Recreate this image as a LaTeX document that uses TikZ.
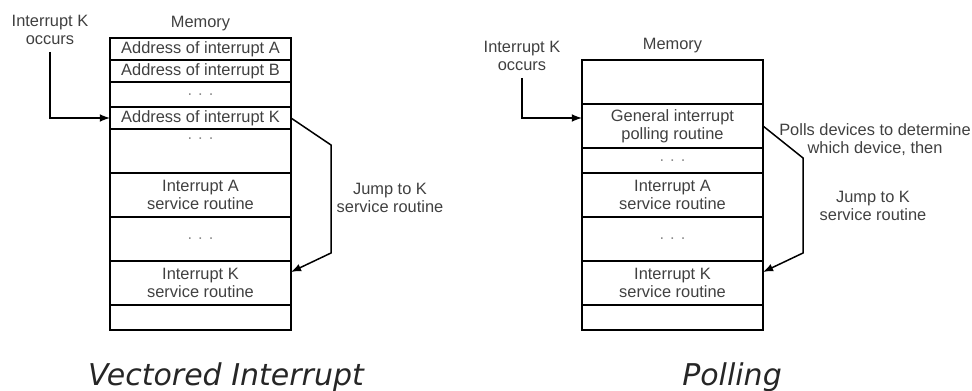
\documentclass[tikz,border=0pt]{standalone}
\usepackage{fontspec}
\setmainfont{Liberation Sans}
\newfontfamily\capfont{DejaVu Sans}
\usetikzlibrary{positioning,calc}
\newcommand{\memdots}{{\color{black!45}. . .}}

\begin{document}
\begin{tikzpicture}[x=0.5pt, y=-0.5pt, node distance=0pt, >=latex,
    every node/.style={font=\fontsize{8.2}{9}\selectfont, text=black!75}]
    % Define block styles
    \tikzstyle{cell} = [draw, line width=0.9pt, rectangle, align=center, inner sep=0pt, outer sep=0pt, minimum width=90.5pt]
    \tikzstyle{slim} = [minimum height=11pt]
    \tikzstyle{dotrow} = [minimum height=12.5pt]
    \tikzstyle{tall} = [minimum height=22pt]
    \tikzstyle{captext} = [font=\capfont\itshape\fontsize{15}{18}\selectfont, text=black!85, anchor=base]
    \tikzstyle{link} = [draw, line width=0.75pt, ->]

    \useasboundingbox (0,0) rectangle (972,390);

    % Vectored interrupt: memory
    \node [cell, slim, anchor=north west] (addrA) at (110,38) {Address of interrupt A};
    \node [cell, slim, below=of addrA] (addrB) {Address of interrupt B};
    \node [cell, dotrow, below=of addrB] (dotsA) {\memdots};
    \node [cell, slim, below=of dotsA] (addrK) {Address of interrupt K};
    \node [cell, tall, below=of addrK] (dotsB) {\memdots\\[3pt]\mbox{}};
    \node [cell, tall, below=of dotsB] (svcA) {Interrupt A\\service routine};
    \node [cell, tall, below=of svcA] (dotsC) {\memdots};
    \node [cell, tall, below=of dotsC] (svcK) {Interrupt K\\service routine};
    \node [cell, dotrow, below=of svcK] (endL) {};
    \node [above=0pt of addrA] (memL) {Memory};
    \node [align=center] (occL) at (50,30) {Interrupt K\\occurs};
    \node [align=center] (jumpL) at (390,198) {Jump to K\\service routine};

    % Polling: memory
    \node [cell, tall, anchor=north west] (topR) at (582,60) {};
    \node [cell, tall, below=of topR] (poll) {General interrupt\\polling routine};
    \node [cell, dotrow, below=of poll] (dotsR) {\memdots};
    \node [cell, tall, below=of dotsR] (svcAR) {Interrupt A\\service routine};
    \node [cell, tall, below=of svcAR] (dotsRB) {\memdots};
    \node [cell, tall, below=of dotsRB] (svcKR) {Interrupt K\\service routine};
    \node [cell, dotrow, below=of svcKR] (endR) {};
    \node [above=0pt of topR] (memR) {Memory};
    \node [align=center] (occR) at (522,56) {Interrupt K\\occurs};
    \node [align=center] (pollTxt) at (875,140) {Polls devices to determine\\which device, then};
    \node [align=center] (jumpR) at (873,206) {Jump to K\\service routine};

    % Captions
    \node [captext] (capL) at (226,385) {Vectored Interrupt};
    \node [captext] (capR) at (732,385) {Polling};

    % Connections
    \draw [link] (occL) |- (addrK);
    \draw [link] (addrK.east) -- ++(20pt,-13.5pt) -- ($(svcK.east)+(20pt,15pt)$) -- ([yshift=5.5pt]svcK.east);
    \draw [link] (occR) |- ([yshift=4pt]poll.west);
    \draw [link] (poll.east) -- ++(20pt,-16pt) -- ($(svcKR.east)+(20pt,15pt)$) -- ([yshift=5.5pt]svcKR.east);
\end{tikzpicture}
\end{document}
